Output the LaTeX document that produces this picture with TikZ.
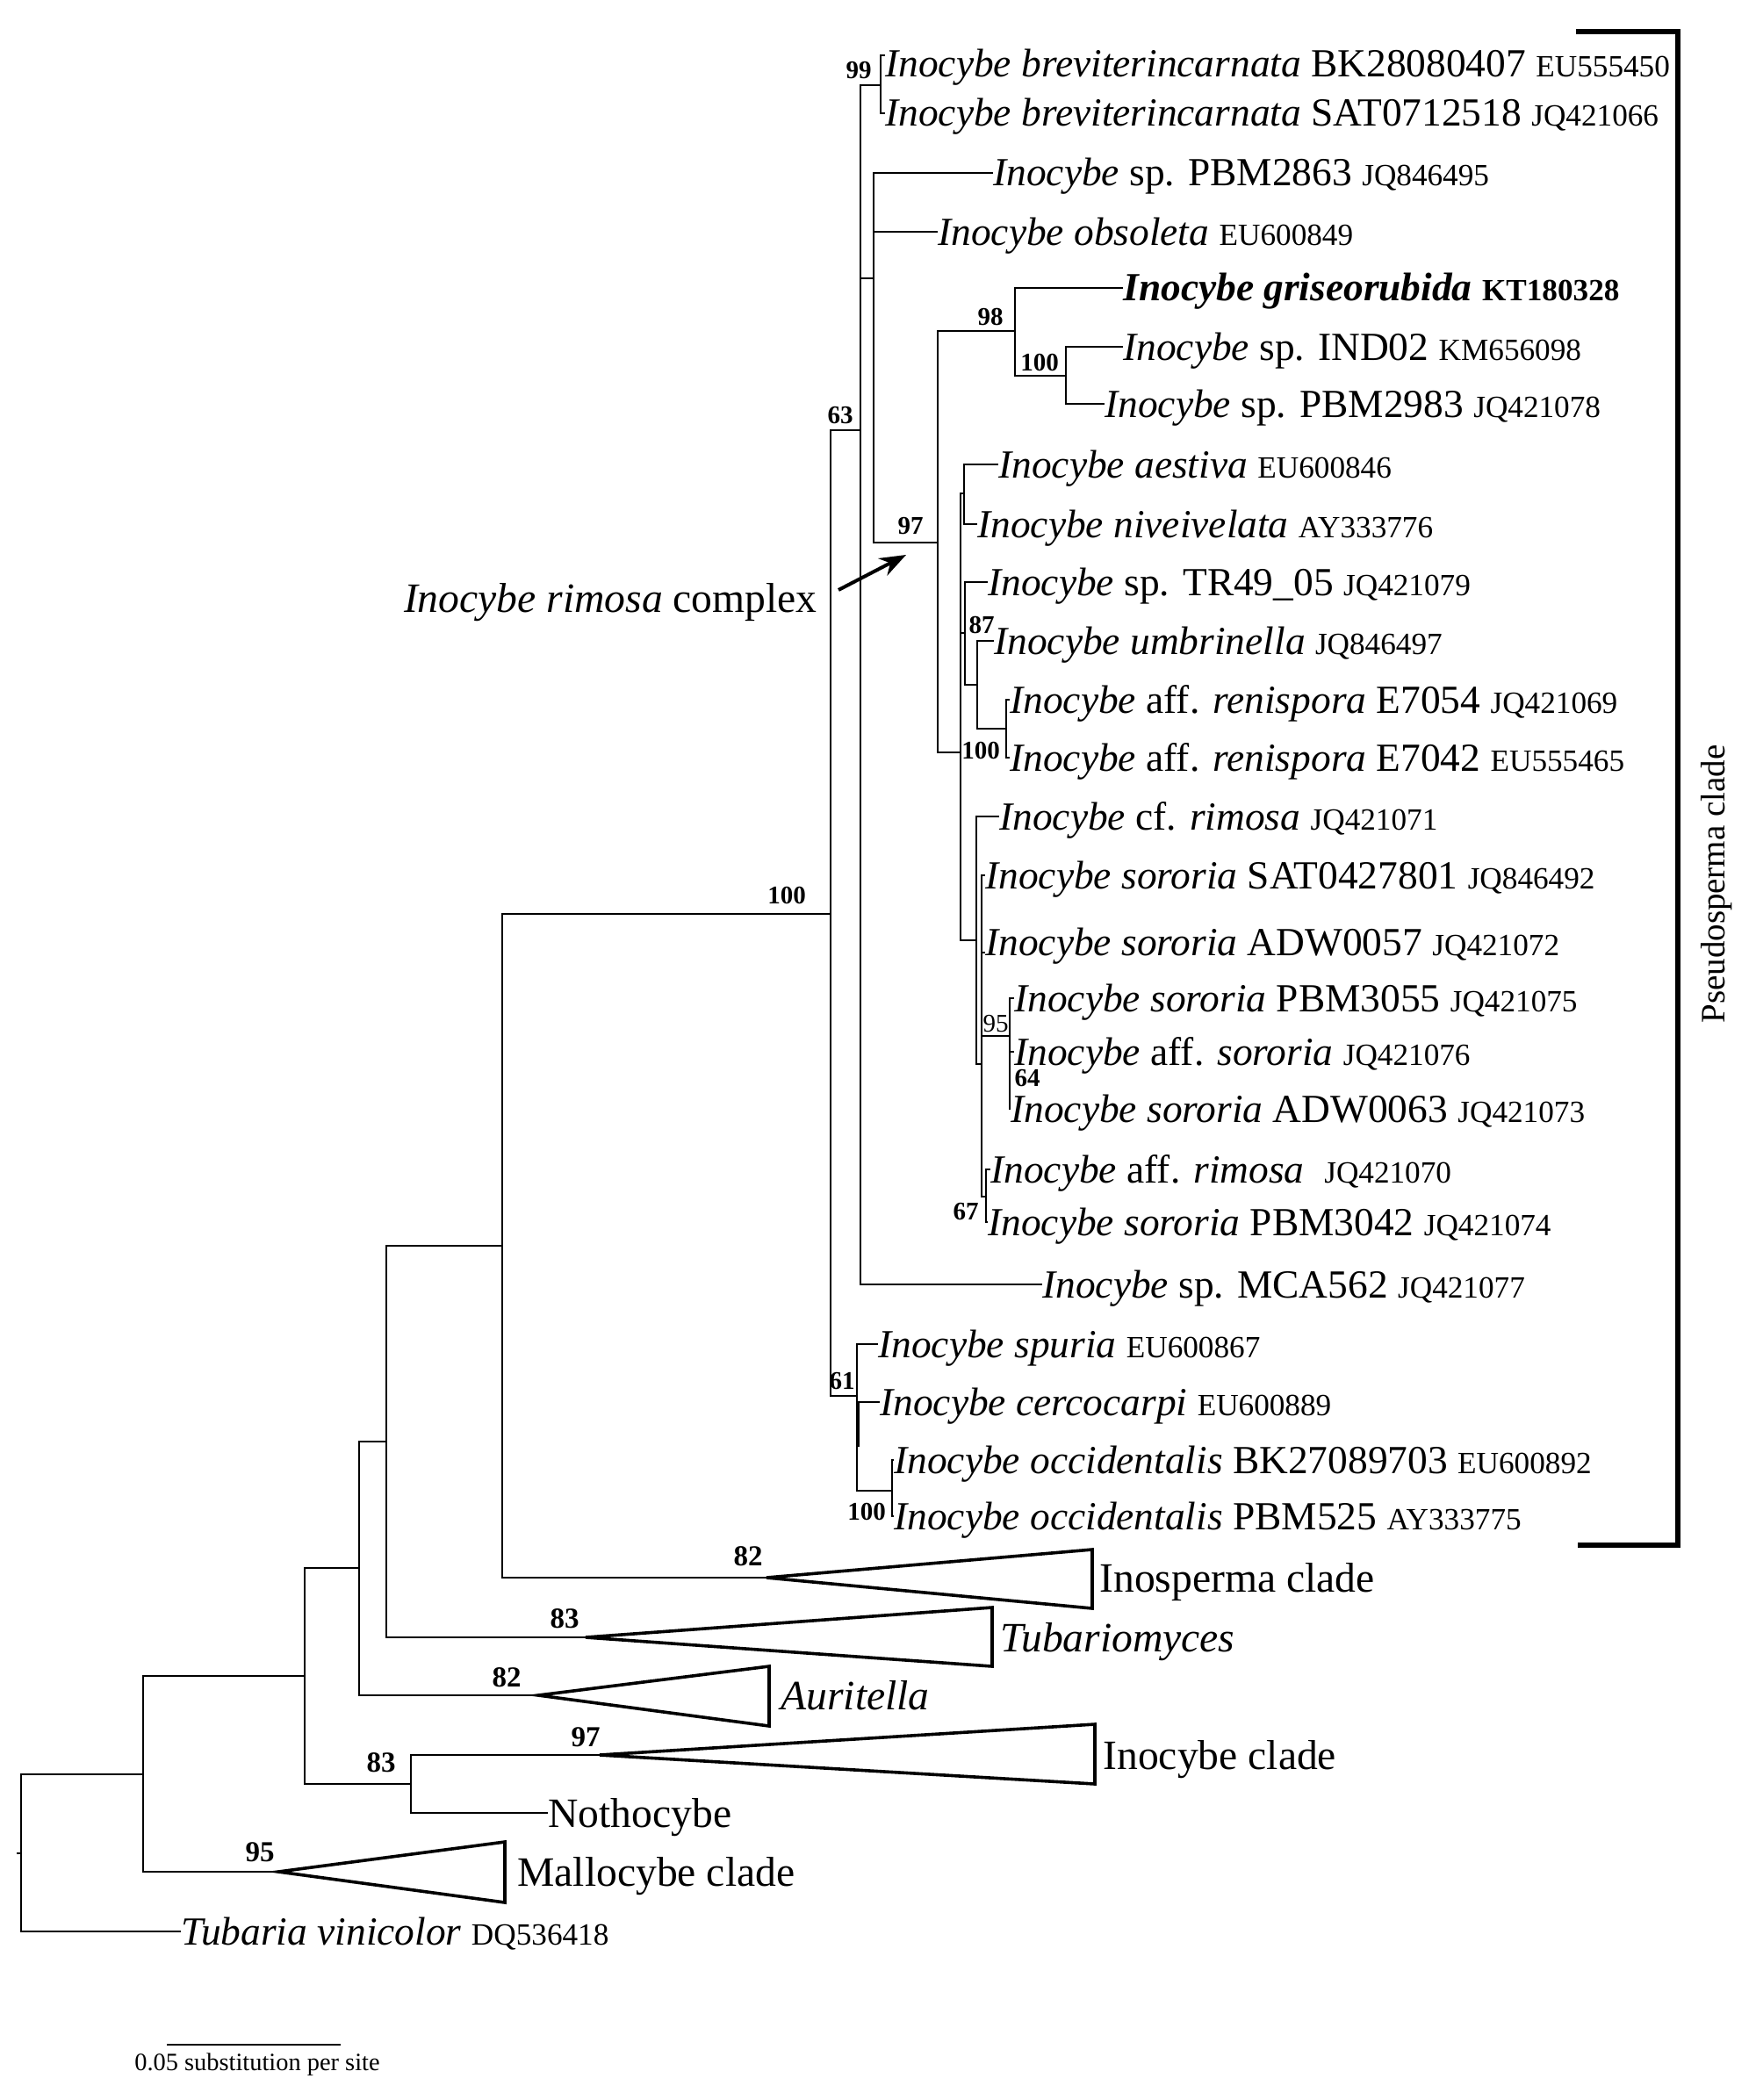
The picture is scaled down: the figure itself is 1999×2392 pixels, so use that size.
\documentclass[tikz,border=0pt]{standalone}
\usepackage{fontspec}
\setmainfont{Liberation Serif}
\usetikzlibrary{arrows.meta}
\newcommand\tipfont{\fontsize{22.7}{27}\selectfont}
\newcommand\accfont{\fontsize{17.6}{21}\selectfont}
\newcommand\bsfont{\fontsize{14.5}{17}\selectfont\bfseries}
\newcommand\bigbsfont{\fontsize{16.5}{19}\selectfont\bfseries}
\newcommand\cladefont{\fontsize{23.8}{28}\selectfont}
\newcommand\accno[1]{{\accfont #1}}
\tikzset{
  branch/.style={line width=1.3pt},
  collapsed/.style={line width=1.8pt, line join=miter},
  taxon/.style={anchor=base west, inner sep=0pt, yshift=-7.5pt, font=\tipfont},
  clade/.style={anchor=base west, inner sep=0pt, yshift=-8pt, font=\cladefont},
  boot/.style={inner sep=0pt, font=\bsfont},
  bigboot/.style={inner sep=0pt, font=\bigbsfont},
}
\begin{document}
\begin{tikzpicture}[x=0.5pt, y=-0.5pt]
  \useasboundingbox (0,0) rectangle (1999,2392);
  % inner nodes: x of the vertical bar, y of the join to the parent
  \foreach \n/\x/\y in {root/24/2111, nA/163/2021, nB/347/1909, nC/409/1786,
      nD/440/1642, nE/572/1419, nF/946/1041, n63/980/490, n61/976/1590,
      n99/1003/97, nG/995/317, n97/1068/618, n98/1156/377, n100a/1214/428,
      n100b/1094/857, nAes/1098/562, nTR/1099/721, n87/1113/780, nRen/1146/830,
      nSor/1112/1071, nSor2/1118/1212, n95/1150/1180, n67/1123/1363,
      nOcc/1016/1698, nNoth/468/2032}
    \coordinate (\n) at (\x,\y);
  % tips and apexes of the collapsed clades
  \foreach \n/\x/\y in {t1/1008/63, t2/1008/129, t3/1131/197, t4/1068/264,
      t5/1279/328, t6/1279/395, t7/1258/460, t8/1137/529, t9/1113/597,
      t10/1125/663, t11/1132/730, t12/1150/797, t13/1150/863, t14/1138/930,
      t15/1122/997, t16/1122/1085, t17/1155/1137, t18/1155/1198, t19/1151/1263,
      t20/1128/1332, t21/1125/1392, t22/1187/1463, t23/1000/1531, t24/1002/1597,
      t25/1018/1663, t26/1018/1727, tTub/206/2200, tNoth/624/2065,
      aInos/873/1797, aTubm/667/1865, aAuri/613/1931, aInoc/683/1999, aMall/317/2132}
    \coordinate (\n) at (\x,\y);
  % branches
  \foreach \p/\c in {root/nA, root/tTub, nA/nB, nA/aMall, nB/nC, nB/nNoth,
      nC/nD, nC/aAuri, nD/nE, nD/aTubm, nE/nF, nE/aInos, nF/n63, nF/n61,
      n63/n99, n63/nG, n63/t22, n99/t1, n99/t2, nG/t3, nG/t4, nG/n97,
      n97/n98, n97/n100b, n98/t5, n98/n100a, n100a/t6, n100a/t7,
      n100b/nAes, n100b/nTR, n100b/nSor, nAes/t8, nAes/t9, nTR/t10, nTR/n87,
      n87/t11, n87/nRen, nRen/t12, nRen/t13, nSor/t14, nSor/nSor2,
      nSor2/t15, nSor2/t16, nSor2/n95, nSor2/n67, n95/t17, n95/t18, n95/t19,
      n67/t20, n67/t21, n61/t23, n61/t24, n61/nOcc, nOcc/t25, nOcc/t26,
      nNoth/aInoc, nNoth/tNoth}
    \draw[branch] (\p) |- (\c);
  \draw[branch] (root) -- ++(-5,0);
  \draw[line width=1.7pt] (977,1597) -- (977,1648);
  % collapsed clades
  \foreach \a/\r/\t/\b in {aInos/1244/1765/1832, aTubm/1130/1831/1898,
      aAuri/876/1898/1966, aInoc/1247/1964/2032, aMall/575/2098/2167}
    \draw[collapsed] (\a) -- (\r,\t) -- (\r,\b) -- cycle;
  % taxa
  \node[taxon, yshift=-5pt] (lt1) at (t1)
    {\textit{Inocybe breviterincarnata} BK28080407 \accno{EU555450}};
  \node[taxon, yshift=6pt] (lt16) at (t16)
    {\textit{Inocybe sororia} ADW0057 \accno{JQ421072}};
  \foreach \n/\t in {
      t2/{\textit{Inocybe breviterincarnata} SAT0712518 \accno{JQ421066}},
      t3/{\textit{Inocybe} sp. PBM2863 \accno{JQ846495}},
      t4/{\textit{Inocybe obsoleta} \accno{EU600849}},
      t5/{\textbf{\textit{Inocybe griseorubida}} {\accfont\bfseries KT180328}},
      t6/{\textit{Inocybe} sp. IND02 \accno{KM656098}},
      t7/{\textit{Inocybe} sp. PBM2983 \accno{JQ421078}},
      t8/{\textit{Inocybe aestiva} \accno{EU600846}},
      t9/{\textit{Inocybe niveivelata} \accno{AY333776}},
      t10/{\textit{Inocybe} sp. TR49\_05 \accno{JQ421079}},
      t11/{\textit{Inocybe umbrinella} \accno{JQ846497}},
      t12/{\textit{Inocybe} aff. \textit{renispora} E7054 \accno{JQ421069}},
      t13/{\textit{Inocybe} aff. \textit{renispora} E7042 \accno{EU555465}},
      t14/{\textit{Inocybe} cf. \textit{rimosa} \accno{JQ421071}},
      t15/{\textit{Inocybe sororia} SAT0427801 \accno{JQ846492}},
      t17/{\textit{Inocybe sororia} PBM3055 \accno{JQ421075}},
      t18/{\textit{Inocybe} aff. \textit{sororia} \accno{JQ421076}},
      t19/{\textit{Inocybe sororia} ADW0063 \accno{JQ421073}},
      t20/{\textit{Inocybe} aff. \textit{rimosa}\ \ \accno{JQ421070}},
      t21/{\textit{Inocybe sororia} PBM3042 \accno{JQ421074}},
      t22/{\textit{Inocybe} sp. MCA562 \accno{JQ421077}},
      t23/{\textit{Inocybe spuria} \accno{EU600867}},
      t24/{\textit{Inocybe cercocarpi} \accno{EU600889}},
      t25/{\textit{Inocybe occidentalis} BK27089703 \accno{EU600892}},
      t26/{\textit{Inocybe occidentalis} PBM525 \accno{AY333775}},
      tTub/{\textit{Tubaria vinicolor} \accno{DQ536418}}}
    \node[taxon] (l\n) at (\n) {\t};
  \node[clade] (lInos) at (1252,1797) {Inosperma clade};
  \node[clade] (lTubm) at (1139,1865) {\textit{Tubariomyces}};
  \node[clade] (lAuri) at (889,1931) {\textit{Auritella}};
  \node[clade] (lInoc) at (1256,1999) {Inocybe clade};
  \node[clade] (lNoth) at (tNoth) {Nothocybe};
  \node[clade] (lMall) at (589,2132) {Mallocybe clade};
  % bootstrap values
  \foreach \n/\x/\y/\v in {b99/978/80/99, b63/957/473/63, b98/1128/361/98,
      b100a/1184/413/100, b97/1037/599/97, b87/1118/712/87, b100b/1117/855/100,
      b64/1170/1228/64, b67/1100/1380/67, b100c/896/1020/100, b61/959/1573/61,
      b100d/987/1722/100}
    \node[boot] (\n) at (\x,\y) {\v};
  \node[boot, font=\fontsize{14.5}{17}\selectfont] (b95) at (1134,1166) {95};
  \foreach \n/\x/\y/\v in {b82a/852/1773/82, b83a/643/1844/83, b82b/577/1911/82,
      b97b/667/1979/97, b83b/434/2008/83, b95b/296/2110/95}
    \node[bigboot] (\n) at (\x,\y) {\v};
  % rimosa complex pointer
  \node[clade, anchor=base east] (lRim) at (931,681)
    {\textit{Inocybe rimosa} complex};
  \coordinate (arrS) at (955,672);
  \coordinate (arrE) at (1032,632);
  \draw[line width=2pt, -{Stealth[length=15pt, width=11pt]}] (arrS) -- (arrE);
  % bracket
  \coordinate (brA) at (1795,36);
  \coordinate (brB) at (1911,36);
  \coordinate (brC) at (1911,1760);
  \coordinate (brD) at (1797,1760);
  \draw[line width=3pt, line join=miter] (brA) -- (brB) -- (brC) -- (brD);
  \node[rotate=90, inner sep=0pt, font=\fontsize{19.5}{23}\selectfont] (lPseu)
    at (1955,1007) {Pseudosperma clade};
  % scale bar
  \coordinate (sb1) at (190,2329);
  \coordinate (sb2) at (388,2329);
  \draw[line width=1pt] (sb1) -- (sb2);
  \node[inner sep=0pt, font=\fontsize{14.2}{17}\selectfont] (lScale) at (293,2352)
    {0.05 substitution per site};
\end{tikzpicture}
\end{document}
